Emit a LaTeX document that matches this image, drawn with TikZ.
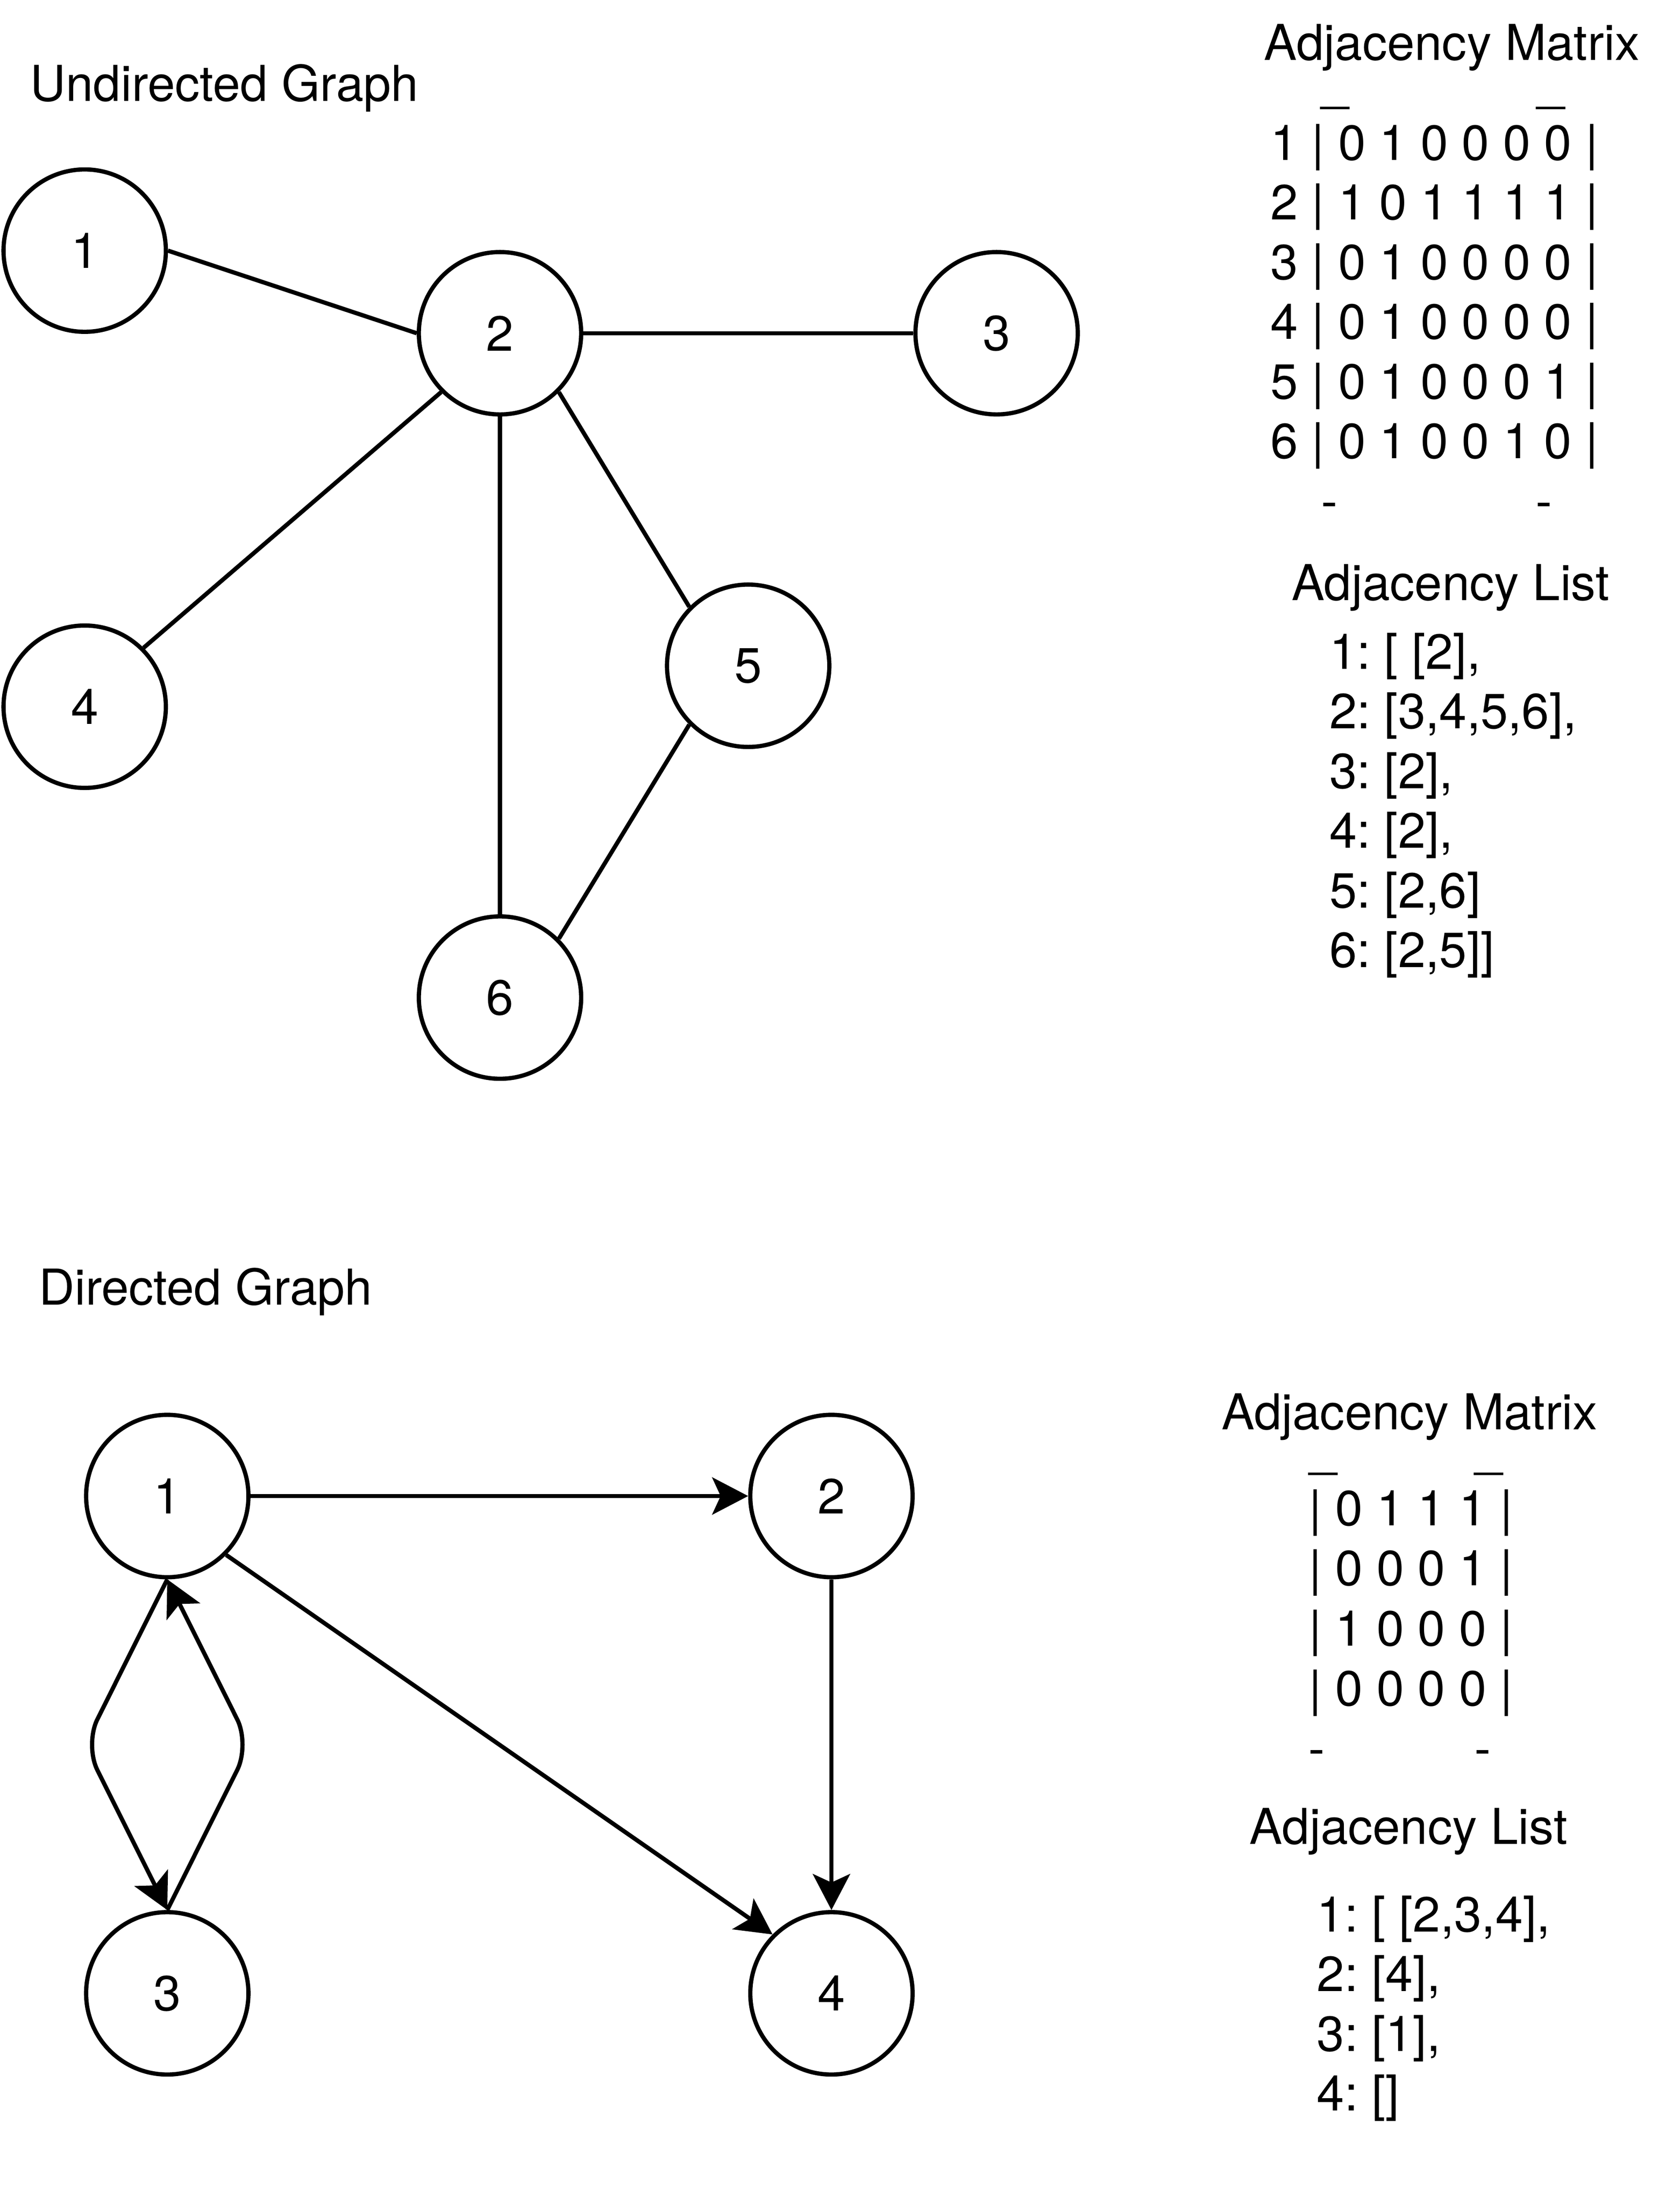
\documentclass[tikz,border=0pt]{standalone}
\usepackage{fontspec}
\setmainfont{TeX Gyre Heros}
\usetikzlibrary{positioning, arrows.meta}

\begin{document}
\begin{tikzpicture}[x=1pt, y=-1pt, line width=3pt, on grid,
    font=\fontsize{35}{42}\selectfont\frenchspacing,
    >={Stealth[length=25.5pt, width=26.4pt, inset=6pt]},
    vertex/.style={circle, draw, minimum size=115pt, inner sep=0pt},
    txt/.style={anchor=base west, inner sep=0pt},
    heading/.style={anchor=base, inner sep=0pt}]
    \useasboundingbox (0,0) rectangle (1190,1560.2);

    % undirected graph
    \node[txt] (utitle) at (20,71.7) {Undirected Graph};
    \node[vertex] (u1) at (60,177.5) {1};
    \node[vertex] (u2) at (354.2,236) {2};
    \node[vertex] (u3) [right=351.8pt of u2] {3};
    \node[vertex] (u4) at (60,500.5) {4};
    \node[vertex] (u5) at (530,471.5) {5};
    \node[vertex] (u6) [below=470.5pt of u2] {6};

    \path
    (u1.east) edge (u2.west)
    (u2.east) edge (u3.west)
    (u2.south west) edge (u4.north east)
    (u2.south) edge (u6.north)
    (u2.south east) edge (u5.north west)
        (u5.south west) edge (u6.north east);

    % undirected matrix and list
    \node[heading] (umat) at (1028.5,42.6) {Adjacency Matrix};
    \node[txt] (ubar1) at (934.4,71.2) {\_};
    \node[txt] (ubar2) at (1087.4,71.2) {\_};
    \node[txt] (urow1) at (898.5,113.3) {1 | 0 1 0 0 0 0 |};
    \node[txt] (urow2) at (898.5,155.6) {2 | 1 0 1 1 1 1 |};
    \node[txt] (urow3) at (898.5,197.9) {3 | 0 1 0 0 0 0 |};
    \node[txt] (urow4) at (898.5,240.2) {4 | 0 1 0 0 0 0 |};
    \node[txt] (urow5) at (898.5,282.5) {5 | 0 1 0 0 0 1 |};
    \node[txt] (urow6) at (898.5,324.8) {6 | 0 1 0 0 1 0 |};
    \node[txt] (udash1) at (934.5,367.1) {-};
    \node[txt] (udash2) at (1086.5,367.1) {-};
    \node[heading] (ulist) at (1027.5,425) {Adjacency List};
    \node[txt] (uitem1) at (940.3,473.7) {1: [ [2],};
    \node[txt] (uitem2) at (940.3,516) {2: [3,4,5,6],};
    \node[txt] (uitem3) at (940.3,558.3) {3: [2],};
    \node[txt] (uitem4) at (940.3,600.6) {4: [2],};
    \node[txt] (uitem5) at (940.3,642.9) {5: [2,6]};
    \node[txt] (uitem6) at (940.3,685.2) {6: [2,5]]};

    % directed graph
    \node[txt] (dtitle) at (26,924) {Directed Graph};
    \node[vertex] (d1) at (118.5,1059.5) {1};
    \node[vertex] (d2) [right=470.5pt of d1] {2};
    \node[vertex] (d3) [below=352.2pt of d1] {3};
    \node[vertex] (d4) [below=352.2pt of d2] {4};
    \coordinate (lbend) at (60,1235.6);
    \coordinate (rbend) at (177,1235.6);

    \path[->]
    (d1.east) edge (d2.west)
    (d2.south) edge (d4.north)
    (d1.south east) edge (d4.north west);
    \draw[->, rounded corners=20pt] (d1.south) -- (lbend) -- (d3.north);
    \draw[->, rounded corners=20pt] (d3.north) -- (rbend) -- (d1.south);

    % directed matrix and list
    \node[heading] (dmat) at (998.5,1012.3) {Adjacency Matrix};
    \node[txt] (dbar1) at (926,1038.6) {\_};
    \node[txt] (dbar2) at (1043.3,1038.6) {\_};
    \node[txt] (drow1) at (925.6,1080.5) {| 0 1 1 1 |};
    \node[txt] (drow2) at (925.6,1123) {| 0 0 0 1 |};
    \node[txt] (drow3) at (925.6,1165.5) {| 1 0 0 0 |};
    \node[txt] (drow4) at (925.6,1208) {| 0 0 0 0 |};
    \node[txt] (ddash1) at (925.5,1250.5) {-};
    \node[txt] (ddash2) at (1043,1250.5) {-};
    \node[heading] (dlist) at (997.8,1306) {Adjacency List};
    \node[txt] (ditem1) at (931.4,1368) {1: [ [2,3,4],};
    \node[txt] (ditem2) at (931.4,1410.3) {2: [4],};
    \node[txt] (ditem3) at (931.4,1452.6) {3: [1],};
    \node[txt] (ditem4) at (931.4,1494.9) {4: []};
\end{tikzpicture}
\end{document}
